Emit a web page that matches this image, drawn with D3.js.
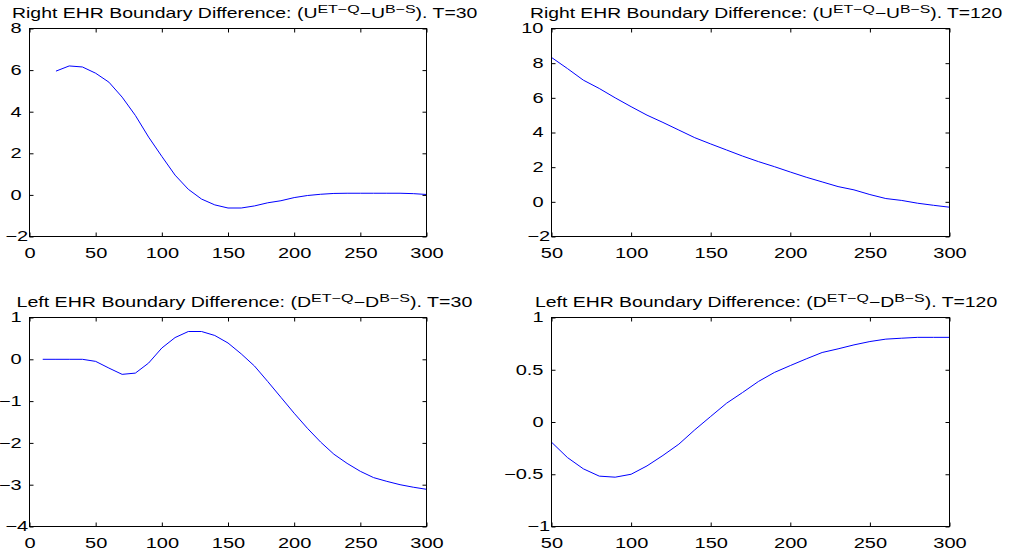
<!DOCTYPE html>
<html>
<head>
<meta charset="utf-8">
<script src="https://cdn.jsdelivr.net/npm/d3@7"></script>
<style>
  body { margin: 0; background: #fff; }
  svg { display: block; font-family: "Liberation Sans", Arial, sans-serif; }
</style>
</head>
<body>
<svg id="main_svg" width="1011" height="552"></svg>
<script>
// data
const xRightT30 = d3.range(20, 301, 10);
const uT30 = [5.95, 6.2, 6.15, 5.85, 5.42, 4.7, 3.82, 2.78, 1.85, 0.95, 0.27, -0.2, -0.48, -0.63,
  -0.63, -0.53, -0.38, -0.28, -0.13, -0.03, 0.03, 0.07, 0.08, 0.08, 0.08, 0.08, 0.08, 0.06, 0.02];

const xRightT120 = d3.range(50, 301, 10);
const uT120 = [8.33, 7.69, 7.02, 6.54, 6.0, 5.49, 5.0, 4.58, 4.14, 3.7, 3.34, 2.99, 2.64, 2.32,
  2.03, 1.72, 1.42, 1.15, 0.88, 0.69, 0.42, 0.19, 0.08, -0.08, -0.2, -0.31];

const xLeftT30 = d3.range(10, 301, 10);
const dT30 = [0, 0, 0, 0, -0.05, -0.21, -0.36, -0.33, -0.09, 0.27, 0.52, 0.665, 0.665, 0.57, 0.39,
  0.13, -0.16, -0.53, -0.91, -1.29, -1.65, -1.98, -2.27, -2.49, -2.68, -2.83, -2.92, -3.0, -3.06, -3.11];

const xLeftT120 = d3.range(50, 301, 10);
const dT120 = [-0.193, -0.34, -0.448, -0.518, -0.528, -0.5, -0.42, -0.32, -0.212, -0.075, 0.053,
  0.18, 0.282, 0.388, 0.474, 0.54, 0.604, 0.665, 0.7, 0.738, 0.77, 0.793, 0.802, 0.81, 0.81, 0.81];

// axis limits and ticks
const xDomains = [[0, 300], [50, 300], [0, 300], [50, 300]];
const yDomains = [[-2, 8], [-2, 10], [-4, 1], [-1, 1]];
const yTickVals = [
  [-2, 0, 2, 4, 6, 8],
  [-2, 0, 2, 4, 6, 8, 10],
  [-4, -3, -2, -1, 0, 1],
  [-1, -0.5, 0, 0.5, 1]
];
const xTickVals = [
  [0, 50, 100, 150, 200, 250, 300],
  [50, 100, 150, 200, 250, 300],
  [0, 50, 100, 150, 200, 250, 300],
  [50, 100, 150, 200, 250, 300]
];

// titles: [text before, sup1, middle, sup2, text after]
const titles = [
  ["Right EHR Boundary Difference: (U", "ET−Q", "−U", "B−S", "). T=30"],
  ["Right EHR Boundary Difference: (U", "ET−Q", "−U", "B−S", "). T=120"],
  ["Left EHR Boundary Difference: (D", "ET−Q", "−D", "B−S", "). T=30"],
  ["Left EHR Boundary Difference: (D", "ET−Q", "−D", "B−S", "). T=120"]
];

const seriesX = [xRightT30, xRightT120, xLeftT30, xLeftT120];
const seriesY = [uT30, uT120, dT30, dT120];

// panel boxes and where each title starts / ends
const boxes = [
  {left: 29.5, right: 426.5, top: 28.5, bottom: 236.5, t0: 12, t1: 478},
  {left: 551.5, right: 949.5, top: 28.5, bottom: 236.5, t0: 530, t1: 1003},
  {left: 29.5, right: 426.5, top: 317.5, bottom: 526.5, t0: 16.5, t1: 473},
  {left: 551.5, right: 949.5, top: 317.5, bottom: 526.5, t0: 535, t1: 998}
];

const svg = d3.select("#main_svg");
const fmt = v => String(v).replace("-", "\u2212");
const tickLen = 4;
const sx = 1.43; // the picture's lettering is stretched sideways

boxes.forEach(function (b, i) {
  const x = d3.scaleLinear().domain(xDomains[i]).range([b.left, b.right]);
  const y = d3.scaleLinear().domain(yDomains[i]).range([b.bottom, b.top]);
  const g = svg.append("g");

  // line
  const line = d3.line()
    .x((d, k) => x(seriesX[i][k]))
    .y(d => y(d));
  g.append("path")
    .datum(seriesY[i])
    .attr("d", line)
    .attr("fill", "none")
    .attr("stroke", "#0000ff")
    .attr("stroke-width", 1);

  // axes (ticks inward on all four sides)
  const bottomAxis = d3.axisBottom(x).tickValues(xTickVals[i]).tickSizeInner(-tickLen).tickSizeOuter(0).tickFormat(fmt).tickPadding(8 + tickLen);
  const topAxis = d3.axisTop(x).tickValues(xTickVals[i]).tickSizeInner(-tickLen).tickSizeOuter(0).tickFormat("");
  const leftAxis = d3.axisLeft(y).tickValues(yTickVals[i]).tickSizeInner(-tickLen).tickSizeOuter(0).tickFormat(fmt);
  const rightAxis = d3.axisRight(y).tickValues(yTickVals[i]).tickSizeInner(-tickLen).tickSizeOuter(0).tickFormat("");

  const gb = g.append("g").attr("transform", "translate(0," + b.bottom + ")").call(bottomAxis);
  const gt = g.append("g").attr("transform", "translate(0," + b.top + ")").call(topAxis);
  const gl = g.append("g").attr("transform", "translate(" + b.left + ",0)").call(leftAxis);
  const gr = g.append("g").attr("transform", "translate(" + b.right + ",0)").call(rightAxis);

  [gb, gt, gl, gr].forEach(function (a) {
    a.select(".domain").remove();
    a.selectAll("line").attr("stroke", "#000").attr("stroke-width", 1);
    a.selectAll("text").attr("fill", "#000").style("font-size", "14px")
      .style("font-family", "'Liberation Sans', Arial, sans-serif")
      .attr("transform", "scale(" + sx + ",1)");
  });
  gb.selectAll("text").attr("dy", "0.71em");
  // right edge of y labels about 8px left of the box; lowest one sits further right
  gl.selectAll("text")
    .attr("x", d => (d === yDomains[i][0] ? -1.5 : -8) / sx);

  g.append("rect")
    .attr("x", b.left).attr("y", b.top)
    .attr("width", b.right - b.left).attr("height", b.bottom - b.top)
    .attr("fill", "none").attr("stroke", "#000").attr("stroke-width", 1);

  // title, stretched to the span it covers in the picture
  const t = titles[i];
  const title = g.append("text")
    .attr("x", 0)
    .attr("y", b.top - 10.5)
    .attr("text-anchor", "start")
    .style("font-size", "14px")
    .attr("fill", "#000");
  title.append("tspan").text(t[0]);
  title.append("tspan").attr("dy", -5).style("font-size", "11.5px").text(t[1]);
  title.append("tspan").attr("dy", 5).text(t[2]);
  title.append("tspan").attr("dy", -5).style("font-size", "11.5px").text(t[3]);
  title.append("tspan").attr("dy", 5).text(t[4]);
  const w = title.node().getBBox().width;
  const k = (b.t1 - b.t0) / w;
  title.attr("transform", "translate(" + b.t0 + ",0) scale(" + k + ",1)");
});
</script>
</body>
</html>
